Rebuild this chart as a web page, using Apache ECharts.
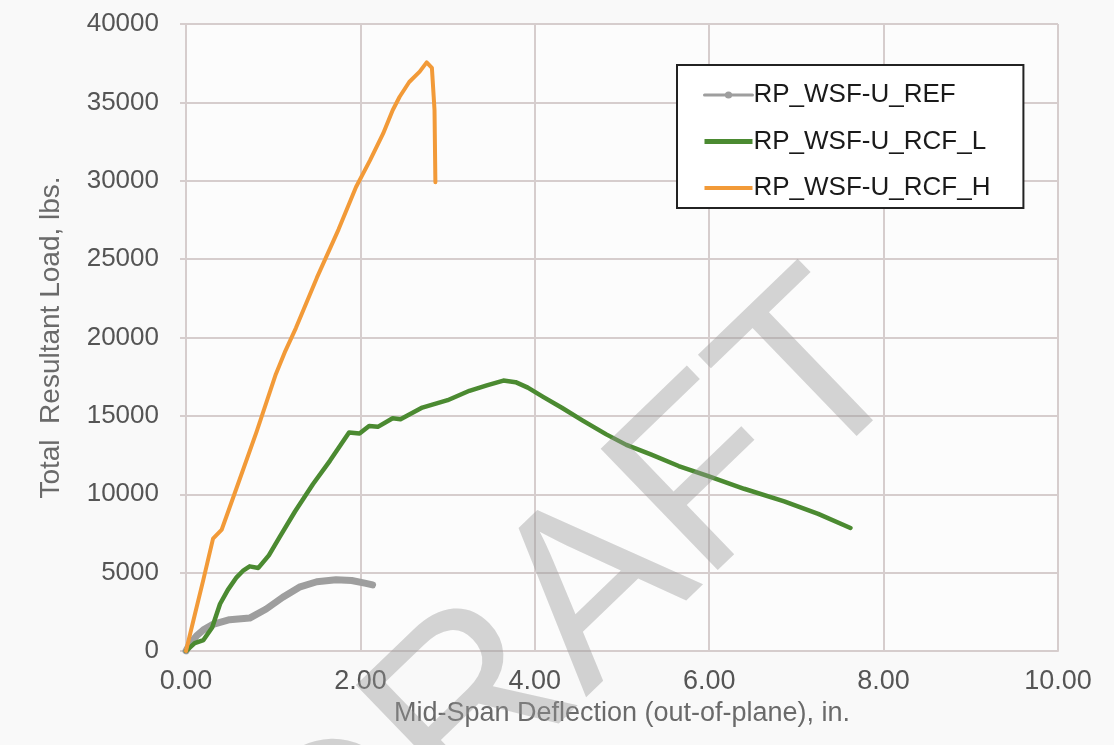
<!DOCTYPE html>
<html>
<head>
<meta charset="utf-8">
<script src="https://cdn.jsdelivr.net/npm/echarts@6/dist/echarts.min.js"></script>
<style>
html,body{margin:0;padding:0;background:#f9f9f9;}
#c{width:1114px;height:745px;}
</style>
</head>
<body>
<div id="c"></div>
<script>
// ---- Data ----
const xTicks = [0, 2, 4, 6, 8, 10];
const yTicks = [0, 5000, 10000, 15000, 20000, 25000, 30000, 35000, 40000];

const seriesNames = ['RP_WSF-U_REF', 'RP_WSF-U_RCF_L', 'RP_WSF-U_RCF_H'];

const refX = [0, 0.05, 0.12, 0.2, 0.31, 0.5, 0.73, 0.92, 1.11, 1.3, 1.5, 1.72, 1.9, 2.05, 2.14];
const refY = [0, 500, 960, 1350, 1700, 2000, 2100, 2680, 3430, 4070, 4420, 4550, 4500, 4330, 4220];

const rcfLX = [0, 0.1, 0.2, 0.3, 0.39, 0.48, 0.58, 0.66, 0.73, 0.83, 0.95, 1.07, 1.25, 1.455, 1.65, 1.87, 1.99, 2.1, 2.2, 2.37, 2.46, 2.71, 3.0, 3.25, 3.45, 3.64, 3.78, 3.92, 4.1, 4.31, 4.55, 4.82, 5.05, 5.33, 5.65, 5.99, 6.4, 6.86, 7.25, 7.62];
const rcfLY = [0, 500, 700, 1500, 3000, 3900, 4700, 5150, 5400, 5300, 6100, 7230, 8900, 10640, 12130, 13940, 13870, 14360, 14300, 14850, 14790, 15530, 16000, 16600, 16950, 17250, 17150, 16800, 16200, 15520, 14700, 13820, 13150, 12540, 11800, 11150, 10350, 9550, 8750, 7850];

const rcfHX = [0, 0.1, 0.2, 0.31, 0.41, 0.58, 0.81, 1.03, 1.14, 1.26, 1.5, 1.75, 1.95, 2.11, 2.26, 2.37, 2.45, 2.56, 2.68, 2.76, 2.82, 2.85, 2.86];
const rcfHY = [0, 2300, 4570, 7170, 7750, 10400, 14000, 17660, 19150, 20600, 23800, 26900, 29600, 31300, 33000, 34500, 35360, 36300, 36960, 37550, 37200, 34500, 29900];

const zip = (xs, ys) => xs.map((x, i) => [x, ys[i]]);

const chart = echarts.init(document.getElementById('c'), null, {renderer: 'canvas'});
const gridColor = '#d6cdcd';
const font = 'Liberation Sans, Arial, sans-serif';
const colors = ['#9e9e9e', '#4b8a31', '#f29a38'];

const option = {
  animation: false,
  backgroundColor: '#f9f9f9',
  grid: {left: 186, right: 56, top: 24, bottom: 94, show: true, backgroundColor: '#fcfcfc', borderWidth: 0},
  xAxis: {
    type: 'value', min: xTicks[0], max: xTicks[xTicks.length - 1], interval: 2,
    name: 'Mid-Span Deflection (out-of-plane), in.',
    nameLocation: 'middle', nameGap: 39,
    nameTextStyle: {fontSize: 27, color: '#6a6a6a', fontFamily: font},
    axisLine: {show: true, lineStyle: {color: gridColor, width: 2}},
    axisTick: {show: false},
    axisLabel: {fontSize: 27, color: '#555', fontFamily: font, margin: 17,
      formatter: v => v.toFixed(2)},
    splitLine: {show: true, lineStyle: {color: gridColor, width: 2}}
  },
  yAxis: {
    type: 'value', min: yTicks[0], max: yTicks[yTicks.length - 1], interval: 5000,
    name: 'Total  Resultant Load, lbs.',
    nameLocation: 'middle', nameGap: 121, nameRotate: 90,
    nameTextStyle: {fontSize: 28, color: '#6a6a6a', fontFamily: font},
    axisLine: {show: true, lineStyle: {color: gridColor, width: 2}},
    axisTick: {show: true, length: 6, lineStyle: {color: gridColor, width: 2}},
    axisLabel: {fontSize: 26, color: '#555', fontFamily: font, margin: 27,
      formatter: v => String(v)},
    splitLine: {show: true, lineStyle: {color: gridColor, width: 2}}
  },
  legend: {
    orient: 'vertical', left: 677, top: 65,
    itemWidth: 48, itemHeight: 9, itemGap: 20.5,
    padding: [17, 33, 7, 26],
    backgroundColor: '#ffffff',
    borderColor: '#222', borderWidth: 2,
    textStyle: {fontSize: 26, color: '#1a1a1a', fontFamily: font, padding: [0, 0, 0, -4]},
    data: [
      {name: seriesNames[0], lineStyle: {width: 3}},
      {name: seriesNames[1], icon: 'path://M0,0L48,0L48,5L0,5Z', itemStyle: {color: colors[1]}},
      {name: seriesNames[2], icon: 'path://M0,0L48,0L48,4L0,4Z', itemStyle: {color: colors[2]}}
    ]
  },
  series: [
    {name: seriesNames[0], type: 'line', data: zip(refX, refY),
     symbol: 'circle', symbolSize: 6, showSymbol: false,
     itemStyle: {color: colors[0]},
     lineStyle: {color: colors[0], width: 7, cap: 'round', join: 'round'}, z: 3},
    {name: seriesNames[1], type: 'line', data: zip(rcfLX, rcfLY),
     symbol: 'none', itemStyle: {color: colors[1]},
     lineStyle: {color: colors[1], width: 4.5, cap: 'round', join: 'round'}, z: 4},
    {name: seriesNames[2], type: 'line', data: zip(rcfHX, rcfHY),
     symbol: 'none', itemStyle: {color: colors[2]},
     lineStyle: {color: colors[2], width: 4, cap: 'round', join: 'round'}, z: 5}
  ],
  graphic: [{
    type: 'text',
    x: 578, y: 611,
    rotation: 44 * Math.PI / 180,
    z: 100,
    silent: true,
    style: {
      text: 'DRAFT',
      font: '245px "Liberation Sans", Arial, sans-serif',
      fill: 'rgba(150,150,150,0.4)',
      align: 'center',
      verticalAlign: 'middle'
    }
  }]
};
chart.setOption(option);
</script>
</body>
</html>
